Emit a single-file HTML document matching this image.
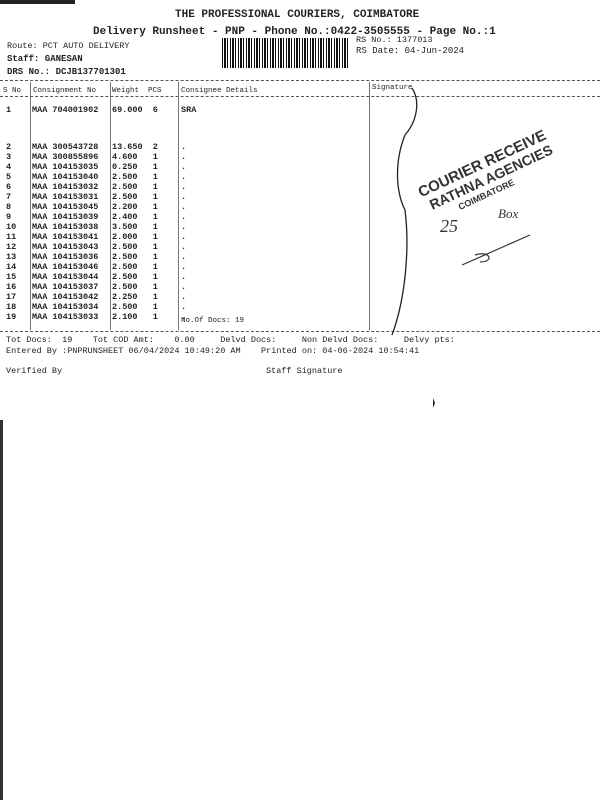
<!DOCTYPE html>
<html><head><style>
body{margin:0;width:600px;height:800px;background:#fff;position:relative;overflow:hidden;font-family:"Liberation Mono",monospace;color:#222}
.t{position:absolute;white-space:pre;font-size:8.5px;line-height:10px}
.b{font-weight:bold}
.h{position:absolute;border-top:1px dashed #555}
.v{position:absolute;width:0;border-left:1px solid #777}
</style></head><body>
<div style="position:absolute;left:0;top:0;width:75px;height:4px;background:#222"></div>
<div style="position:absolute;left:0;top:420px;width:3px;height:380px;background:#333"></div>
<div class="t b" style="left:175px;top:8px;font-size:11px;line-height:14px">THE PROFESSIONAL COURIERS, COIMBATORE</div>
<div class="t b" style="left:93px;top:25px;font-size:11px;line-height:14px">Delivery Runsheet - PNP - Phone No.:0422-3505555 - Page No.:1</div>
<div class="t" style="left:7px;top:41px">Route: PCT AUTO DELIVERY</div>
<div class="t b" style="left:7px;top:54px;font-size:9px">Staff: GANESAN</div>
<div class="t b" style="left:7px;top:67px;font-size:9px">DRS No.: DCJB137701301</div>
<div class="t" style="left:356px;top:35px">RS No.: 1377013</div>
<div class="t" style="left:356px;top:46px;font-size:9px">RS Date: 04-Jun-2024</div>
<div style="position:absolute;left:222px;top:38px;width:128px;height:30px;background:repeating-linear-gradient(90deg,#111 0 1px,#fff 1px 2px,#111 2px 4px,#fff 4px 5px,#111 5px 6px,#fff 6px 8px)"></div>
<div class="h" style="left:0;top:80px;width:600px"></div>
<div class="h" style="left:0;top:96px;width:600px"></div>
<div class="h" style="left:0;top:331px;width:600px"></div>
<div class="v" style="left:30px;top:82px;height:248px"></div>
<div class="v" style="left:110px;top:82px;height:248px"></div>
<div class="v" style="left:178px;top:82px;height:248px"></div>
<div class="v" style="left:369px;top:82px;height:248px"></div>
<div class="t" style="left:3px;top:86px;font-size:7.5px">S No</div>
<div class="t" style="left:33px;top:86px;font-size:7.5px">Consignment No</div>
<div class="t" style="left:112px;top:86px;font-size:7.5px">Weight  PCS</div>
<div class="t" style="left:181px;top:86px;font-size:7.5px">Consignee Details</div>
<div class="t" style="left:372px;top:83px;font-size:7.5px">Signature</div>
<div class="t b" style="left:6px;top:105px">1</div>
<div class="t b" style="left:32px;top:105px">MAA 704001902</div>
<div class="t b" style="left:112px;top:105px">69.000  6</div>
<div class="t b" style="left:181px;top:105px">SRA</div>
<div class="t b" style="left:6px;top:142px">2
3
4
5
6
7
8
9
10
11
12
13
14
15
16
17
18
19</div>
<div class="t b" style="left:32px;top:142px">MAA 300543728
MAA 300855896
MAA 104153035
MAA 104153040
MAA 104153032
MAA 104153031
MAA 104153045
MAA 104153039
MAA 104153038
MAA 104153041
MAA 104153043
MAA 104153036
MAA 104153046
MAA 104153044
MAA 104153037
MAA 104153042
MAA 104153034
MAA 104153033</div>
<div class="t b" style="left:112px;top:142px">13.650  2
4.600   1
0.250   1
2.500   1
2.500   1
2.500   1
2.200   1
2.400   1
3.500   1
2.000   1
2.500   1
2.500   1
2.500   1
2.500   1
2.500   1
2.250   1
2.500   1
2.100   1</div>
<div class="t b" style="left:181px;top:142px">.
.
.
.
.
.
.
.
.
.
.
.
.
.
.
.
.
.</div>
<div class="t" style="left:181px;top:316px;font-size:7.5px">No.Of Docs: 19</div>
<div class="t" style="left:6px;top:335px">Tot Docs:  19    Tot COD Amt:    0.00     Delvd Docs:     Non Delvd Docs:     Delvy pts:</div>
<div class="t" style="left:6px;top:346px">Entered By :PNPRUNSHEET 06/04/2024 10:49:20 AM    Printed on: 04-06-2024 10:54:41</div>
<div class="t" style="left:6px;top:366px">Verified By</div>
<div class="t" style="left:266px;top:366px">Staff Signature</div>
<svg style="position:absolute;left:0;top:0" width="600" height="800">
<path d="M412 88 C420 100,418 120,405 135 C395 160,395 190,405 210 C410 250,405 300,392 335" fill="none" stroke="#222" stroke-width="1.3"/>
<g transform="rotate(-25 480 170)" fill="#333" font-family="Liberation Sans,sans-serif" font-weight="bold">
<text x="415" y="170" font-size="15">COURIER RECEIVE</text>
<text x="420" y="186" font-size="14">RATHNA AGENCIES</text>
<text x="445" y="198" font-size="9">COIMBATORE</text>
</g>
<text x="440" y="232" font-size="18" fill="#333" font-family="Liberation Serif,serif" font-style="italic">25</text>
<text x="498" y="218" font-size="13" fill="#333" font-family="Liberation Serif,serif" font-style="italic">Box</text>
<path d="M462 265 L530 235 M475 255 C490 250,495 262,480 262" fill="none" stroke="#333" stroke-width="1.2"/>
<path d="M433 398 l2 5 l-2 5 z" fill="#222"/>
</svg>
</body></html>
